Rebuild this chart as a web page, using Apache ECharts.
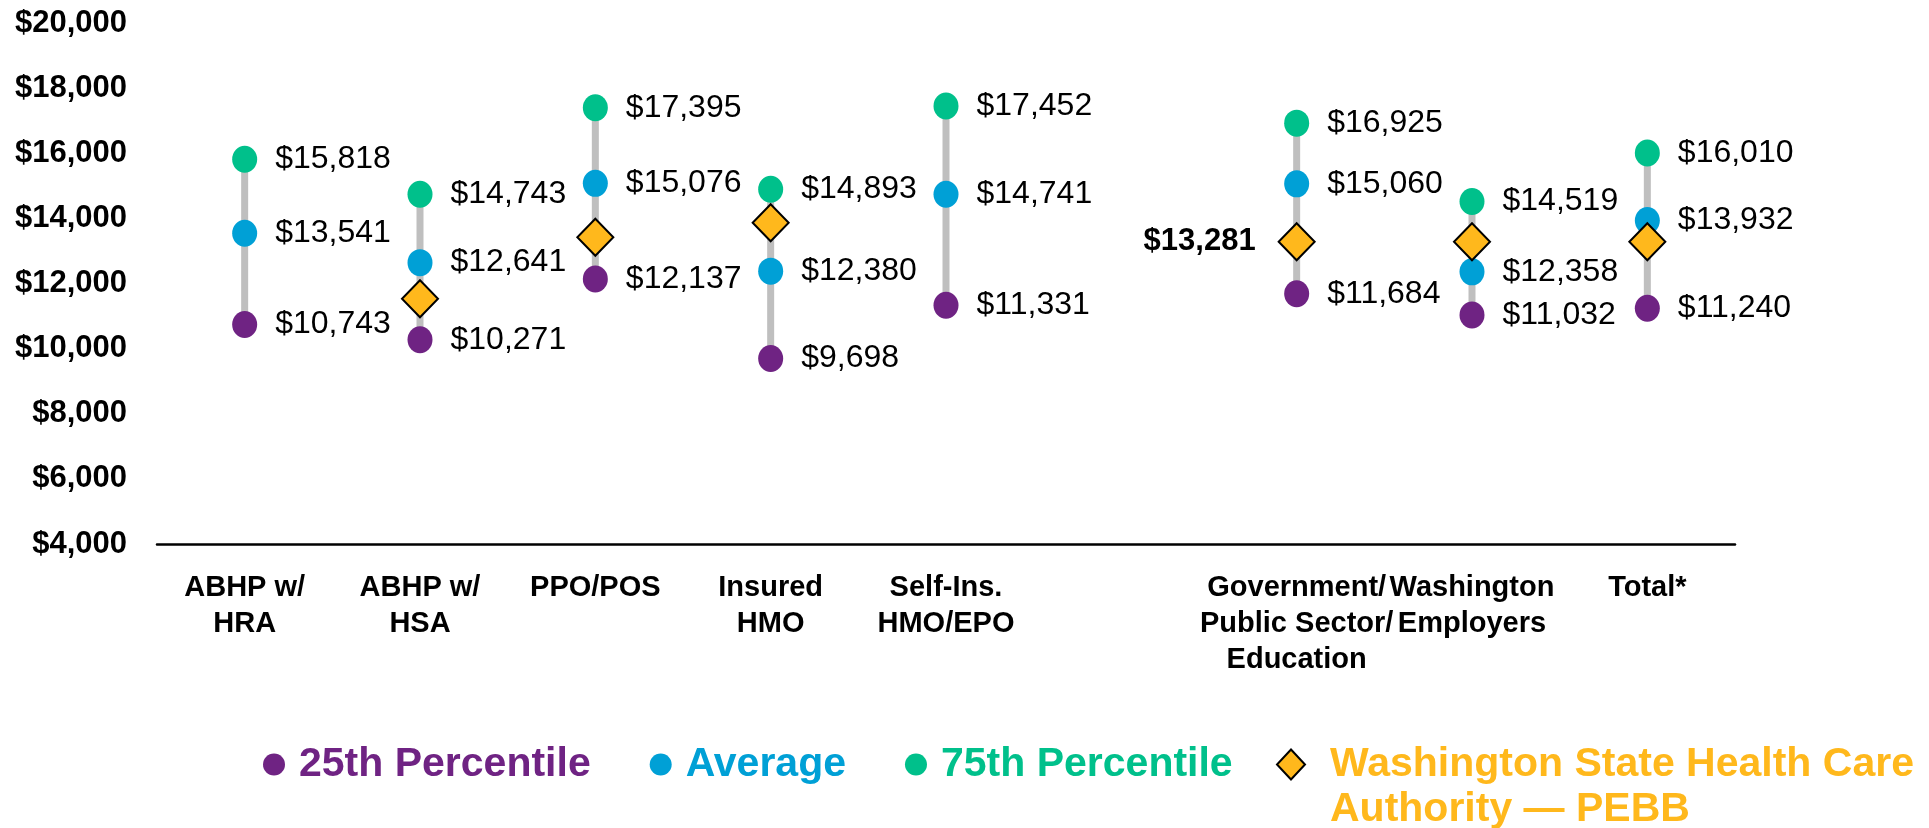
<!DOCTYPE html>
<html>
<head>
<meta charset="utf-8">
<script src="https://cdn.jsdelivr.net/npm/echarts@6/dist/echarts.min.js"></script>
<style>
  html, body { margin: 0; padding: 0; background: #fff; }
  #main { width: 1929px; height: 828px; }
</style>
</head>
<body>
<div id="main"></div>
<script>
// categories (empty slot between Self-Ins. and Government)
var categories = ['ABHP w/\nHRA', 'ABHP w/\nHSA', 'PPO/POS', 'Insured\nHMO', 'Self-Ins.\nHMO/EPO', '',
    'Government/\nPublic Sector/\nEducation', 'Washington\nEmployers', 'Total*'];
var p25 = [10743, 10271, 12137, 9698, 11331, null, 11684, 11032, 11240];
var avg = [13541, 12641, 15076, 12380, 14741, null, 15060, 12358, 13932];
var p75 = [15818, 14743, 17395, 14893, 17452, null, 16925, 14519, 16010];
var pebb = [null, 11530, 13420, 13865, null, null, 13281, 13281, 13281];
var pebbLabelIndex = 6;
var yTicks = {min: 4000, max: 20000, interval: 2000};
var pebbName = 'Washington State Health Care Authority — PEBB';

var FONT = '"Liberation Sans", Arial, sans-serif';
var colPurple = '#6F2383', colBlue = '#00A0D6', colGreen = '#00C08B', colOrange = '#FFB81C';

function money(v) {
    return '$' + Math.round(v).toString().replace(/\B(?=(\d{3})+(?!\d))/g, ',');
}

// grey range line from 25th to 75th
var rangeData = [];
for (let i = 0; i < categories.length; i++) {
    if (p25[i] != null && p75[i] != null) rangeData.push([i, p25[i], p75[i]]);
}

var dotLabel = {
    show: true, position: 'right', distance: 18,
    fontFamily: FONT, fontSize: 32, color: '#000',
    formatter: function (p) { return money(p.value); }
};
var legendText = {fontFamily: FONT, fontSize: 41, fontWeight: 'bold', lineHeight: 45};

var myChart = echarts.init(document.getElementById('main'));
var option = {
    animation: false,
    textStyle: {fontFamily: FONT},
    grid: {left: 157, right: 194, top: 23, bottom: 284, containLabel: false},
    xAxis: {
        type: 'category',
        data: categories,
        axisLine: {lineStyle: {color: '#000', width: 2.5}},
        axisTick: {show: false},
        axisLabel: {
            interval: 0, margin: 26,
            fontFamily: FONT, fontSize: 29, fontWeight: 'bold', color: '#000', lineHeight: 36
        }
    },
    yAxis: {
        type: 'value',
        min: yTicks.min, max: yTicks.max, interval: yTicks.interval,
        axisLine: {show: false},
        axisTick: {show: false},
        splitLine: {show: false},
        axisLabel: {
            margin: 30, fontFamily: FONT, fontSize: 31, fontWeight: 'bold', color: '#000',
            formatter: money
        }
    },
    legend: [
        {
            left: 258, top: 737,
            itemWidth: 40, itemHeight: 22, itemGap: 59,
            textStyle: legendText,
            data: [
                {name: '25th Percentile', textStyle: {color: colPurple}},
                {name: 'Average', textStyle: {color: colBlue}},
                {name: '75th Percentile', textStyle: {color: colGreen}}
            ]
        },
        {
            left: 1271, top: 692,
            itemWidth: 68, itemHeight: 30, symbolKeepAspect: true,
            textStyle: legendText,
            formatter: function () {
                return '\nWashington State Health Care\nAuthority — PEBB';
            },
            data: [
                {name: pebbName, icon: 'path://M0,-15L14,0L0,15L-14,0Z', textStyle: {color: colOrange}}
            ]
        }
    ],
    series: [
        {
            type: 'custom',
            data: rangeData,
            encode: {x: 0, y: [1, 2]},
            silent: true,
            renderItem: function (params, api) {
                let lo = api.coord([api.value(0), api.value(1)]);
                let hi = api.coord([api.value(0), api.value(2)]);
                return {
                    type: 'line',
                    shape: {x1: lo[0], y1: lo[1], x2: hi[0], y2: hi[1]},
                    style: {stroke: '#BFBFBF', lineWidth: 7}
                };
            }
        },
        {
            name: '25th Percentile', type: 'scatter', data: p25,
            symbol: 'circle', symbolSize: [25, 27],
            itemStyle: {color: colPurple, opacity: 1},
            label: dotLabel
        },
        {
            name: 'Average', type: 'scatter', data: avg,
            symbol: 'circle', symbolSize: [25, 27],
            itemStyle: {color: colBlue, opacity: 1},
            label: dotLabel
        },
        {
            name: '75th Percentile', type: 'scatter', data: p75,
            symbol: 'circle', symbolSize: [25, 27],
            itemStyle: {color: colGreen, opacity: 1},
            label: dotLabel
        },
        {
            name: pebbName, type: 'scatter', data: pebb,
            symbol: 'diamond', symbolSize: [36, 37],
            itemStyle: {color: colOrange, borderColor: '#000', borderWidth: 2, opacity: 1},
            label: {
                show: true, position: 'left', distance: 22,
                fontFamily: FONT, fontSize: 31, fontWeight: 'bold', color: '#000',
                formatter: function (p) {
                    return p.dataIndex === pebbLabelIndex ? money(p.value) : '';
                }
            }
        }
    ]
};
myChart.setOption(option);
</script>
</body>
</html>
